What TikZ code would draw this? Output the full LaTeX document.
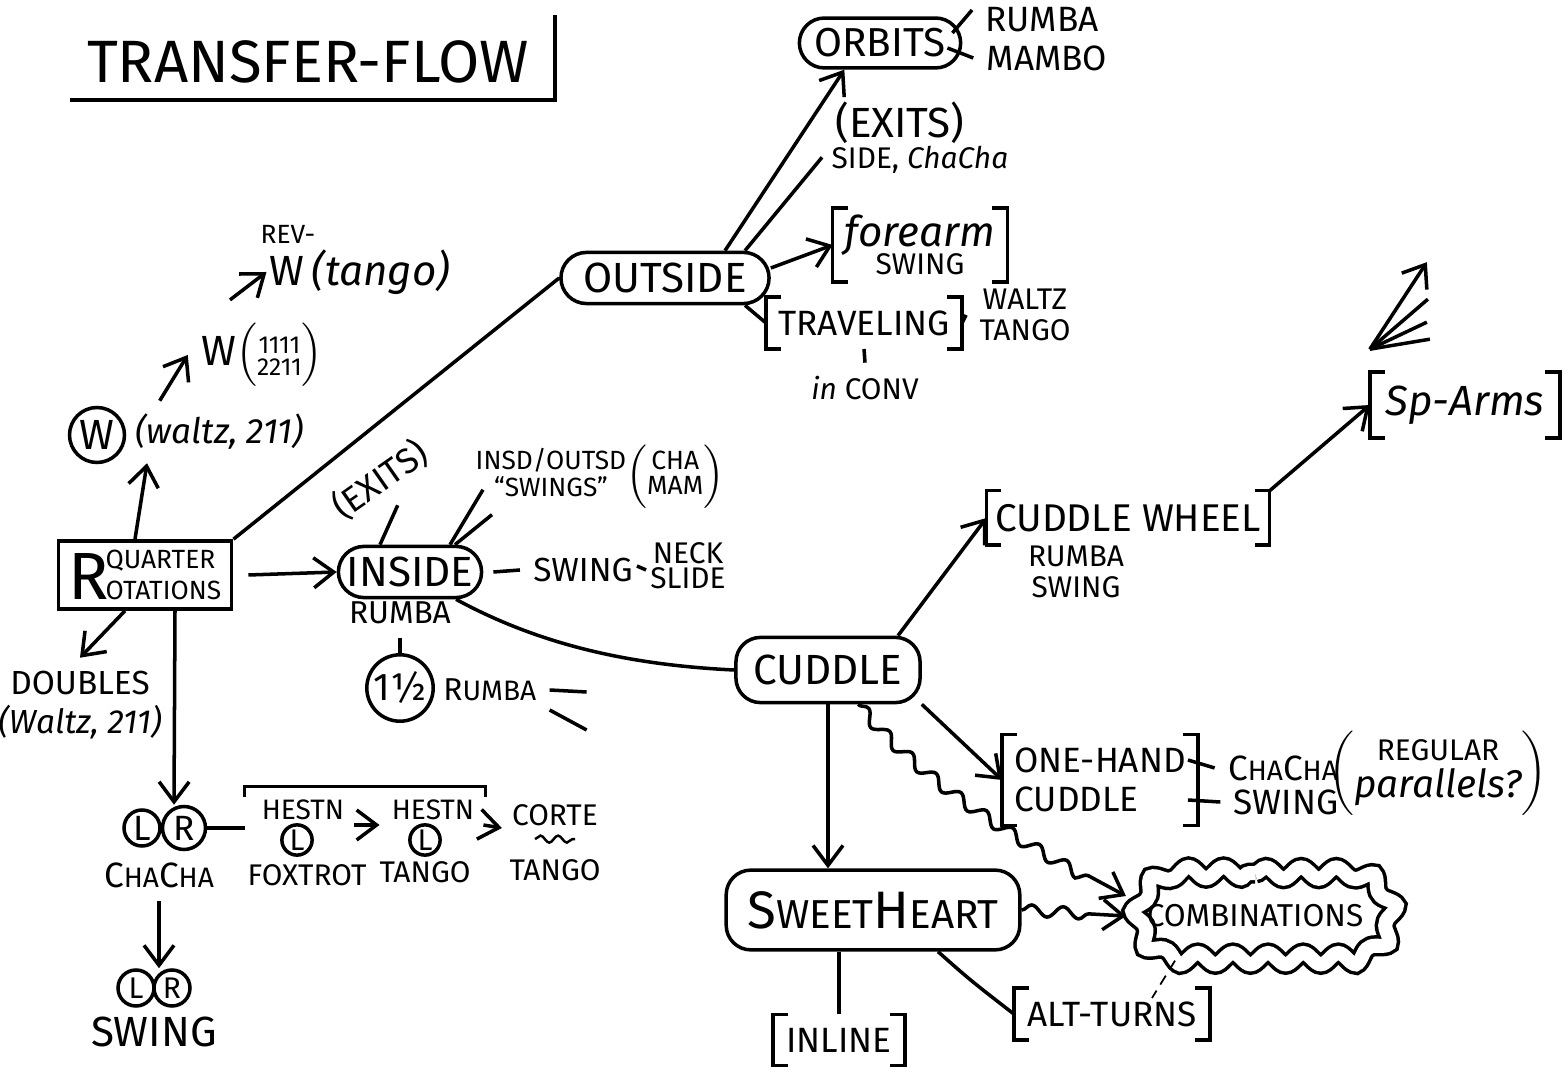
\documentclass[tikz,border=0pt]{standalone}
\usepackage{fontspec}
\setmainfont{Fira Sans}
\usetikzlibrary{arrows.meta,shapes.misc,decorations.pathmorphing}
\tikzset{
  arr/.style={-{Straight Barb[length=2mm,width=3mm]}},
  wavy/.style={decorate,decoration={snake,amplitude=1.6pt,segment length=9pt,post length=3mm}},
  ovalbox/.style={draw,rounded rectangle,inner xsep=1pt,inner ysep=3pt},
  softbox/.style={draw,rounded corners=7pt,inner xsep=5pt,inner ysep=5pt},
  circ/.style={draw,circle,inner sep=0.5pt},
  hugetext/.style={font=\fontsize{17}{18}\selectfont},
  bigtext/.style={font=\fontsize{12}{13}\selectfont,align=center},
  midtext/.style={font=\fontsize{10}{11}\selectfont,align=center},
  smalltext/.style={font=\fontsize{8.5}{9}\selectfont,align=center},
}
\newcommand{\brackets}[1]{%
  \draw ([xshift=1.5mm]#1.north west) -| (#1.south west) -- ++(1.5mm,0);
  \draw ([xshift=-1.5mm]#1.north east) -| (#1.south east) -- ++(-1.5mm,0);}
\newcommand{\stk}[1]{{\renewcommand{\arraystretch}{0.8}\begin{tabular}{@{}c@{}}#1\end{tabular}}}
\newcommand{\sm}[1]{{\fontsize{8}{9}\selectfont #1}}
\begin{document}
\begin{tikzpicture}[line width=1pt]
  \useasboundingbox (0,0) rectangle (15.65,-10.75);
  \node[hugetext] (title) at (3.08,-0.62) {TRANSFER-FLOW};
  \draw (0.7,-1.0) -| (5.55,-0.15);

  \node[draw,inner xsep=3pt,inner ysep=2.5pt] (quarter) at (1.45,-5.75)
    {{\fontsize{19}{19}\selectfont R}\kern-1pt{\fontsize{7.5}{8.5}\selectfont\shortstack[l]{QUARTER\\OTATIONS}}};
  \node[circ,bigtext,minimum size=0.55cm] (wcirc) at (0.97,-4.35) {W};
  \node[midtext,anchor=west] (waltz) at (1.22,-4.32) {\itshape(waltz, 211)};
  \node[bigtext] (wnums) at (2.62,-3.55) {W$\Bigl(\mbox{\fontsize{7}{7}\selectfont\stk{1111\\2211}}\Bigr)$};
  \node[bigtext] (wtango) at (3.6,-2.72) {W\,\itshape(tango)};
  \node[font=\fontsize{7.5}{8}\selectfont] (rev) at (2.88,-2.34) {REV-};
  \node[font=\fontsize{9.5}{11}\selectfont,align=center] (doubles) at (0.8,-7.05) {DOUBLES\\\itshape(Waltz, 211)};

  \node[circ,midtext,minimum size=0.36cm] (lcha) at (1.42,-8.28) {L};
  \node[circ,midtext,minimum size=0.43cm] (rcha) at (1.84,-8.28) {R};
  \node[midtext] (chacha) at (1.59,-8.75) {C\sm{HA}C\sm{HA}};
  \node[circ,smalltext,minimum size=0.36cm] (lsw) at (1.36,-9.88) {L};
  \node[circ,smalltext,minimum size=0.36cm] (rsw) at (1.72,-9.88) {R};
  \node[font=\fontsize{12}{13}\selectfont] (swing) at (1.54,-10.32) {SWING};
  \node[font=\fontsize{8}{9}\selectfont,inner xsep=1pt] (hestn1) at (3.03,-8.1) {HESTN};
  \node[circ,smalltext,minimum size=0.3cm] (lfox) at (2.97,-8.4) {L};
  \node[smalltext] (foxtrot) at (3.07,-8.75) {FOXTROT};
  \node[font=\fontsize{8}{9}\selectfont,inner xsep=1pt] (hestn2) at (4.33,-8.1) {HESTN};
  \node[circ,smalltext,minimum size=0.3cm] (ltan) at (4.25,-8.4) {L};
  \node[smalltext] (tango1) at (4.25,-8.72) {TANGO};
  \node[font=\fontsize{8.5}{9}\selectfont,inner xsep=1pt] (corte) at (5.55,-8.15) {CORTE};
  \node[smalltext] (tango2) at (5.55,-8.7) {TANGO};

  \node[ovalbox,bigtext] (inside) at (4.1,-5.72) {INSIDE};
  \node[font=\fontsize{9}{10}\selectfont] (insrumba) at (4.0,-6.13) {RUMBA};
  \node[circ,font=\fontsize{11}{12}\selectfont,minimum size=0.6cm] (half) at (4.0,-6.88) {1½};
  \node[font=\fontsize{9}{10}\selectfont,anchor=west] (halfrumba) at (4.3,-6.9) {R\sm{UMBA}};
  \node[midtext,rotate=35] (insexits) at (3.8,-4.8) {(EXITS)};
  \node[font=\fontsize{7.5}{8.5}\selectfont] (inout) at (6.0,-4.75)
    {\stk{INSD/OUTSD\\``SWINGS''}$\Bigl(\mbox{\stk{CHA\\MAM}}\Bigr)$};
  \node[font=\fontsize{9.5}{10}\selectfont] (insswing) at (5.83,-5.7) {SWING};
  \node[smalltext] (neck) at (6.88,-5.66) {NECK\\[-2pt]SLIDE};

  \node[ovalbox,bigtext,minimum width=2cm,inner xsep=5pt] (outside) at (6.65,-2.78) {OUTSIDE};
  \node[ovalbox,font=\fontsize{11.5}{12}\selectfont,inner xsep=3pt] (orbits) at (8.8,-0.43) {ORBITS};
  \node[midtext] (orbrumba) at (10.42,-0.2) {RUMBA};
  \node[midtext] (orbmambo) at (10.47,-0.58) {MAMBO};
  \node[font=\fontsize{12}{13}\selectfont] (outexits) at (9.0,-1.23) {(EXITS)};
  \node[smalltext] (sidecha) at (9.2,-1.6) {SIDE, \itshape ChaCha};
  \node[bigtext,inner ysep=1.5pt,inner xsep=3pt] (forearm) at (9.2,-2.45) {\itshape forearm\\[-5pt]{\fontsize{8.5}{9}\selectfont SWING}};
  \node[midtext,inner xsep=3pt] (traveling) at (8.64,-3.23) {TRAVELING};
  \node[smalltext] (waltztango) at (10.25,-3.15) {WALTZ\\TANGO};
  \node[smalltext] (inconv) at (8.65,-3.88) {\itshape in \upshape CONV};

  \node[softbox,bigtext] (cuddle) at (8.28,-6.7) {CUDDLE};
  \node[font=\fontsize{11}{12}\selectfont,inner xsep=2pt] (wheel) at (11.28,-5.18) {CUDDLE WHEEL};
  \node[smalltext] (wheelrs) at (10.76,-5.72) {RUMBA\\SWING};
  \node[bigtext,inner xsep=4pt] (sparms) at (14.65,-4.05) {\itshape Sp-Arms};
  \node[midtext,align=left,inner xsep=3pt] (onehand) at (11.0,-7.8) {ONE-HAND\\CUDDLE};
  \node[midtext] (ohcha) at (12.83,-7.68) {C\sm{HA}C\sm{HA}};
  \node[midtext] (ohswing) at (12.86,-8.02) {SWING};
  \node[smalltext] (regular) at (14.38,-7.72)
    {$\biggl(\mbox{\stk{REGULAR\\{\fontsize{11}{11}\selectfont\itshape parallels?}}}\biggr)$};
  \node[softbox,inner xsep=6pt,inner ysep=6pt] (sweet) at (8.73,-9.1)
    {{\fontsize{15}{16}\selectfont S}{\fontsize{11.5}{12}\selectfont WEET}{\fontsize{15}{16}\selectfont H}{\fontsize{11.5}{12}\selectfont EART}};
  \node[draw,double,double distance=4pt,rounded rectangle,decorate,
    decoration={snake,amplitude=1.6pt,segment length=10pt},
    font=\fontsize{9}{10}\selectfont,inner xsep=5pt,inner ysep=9pt] (comb) at (12.55,-9.16) {COMBINATIONS};
  \node[midtext] (inline) at (8.39,-10.4) {INLINE};
  \node[midtext] (altturns) at (11.12,-10.14) {ALT-TURNS};
  \foreach \n in {forearm,traveling,wheel,sparms,onehand,inline,altturns} {\brackets{\n}}

  \begin{scope}
    \draw[arr] ([xshift=-1mm]quarter.north) -- ([xshift=2.5mm]waltz.south west);
    \draw[arr] ([xshift=-6mm]waltz.north) -- (wnums.west);
    \draw[arr] ([shift={(-3.2mm,1mm)}]wnums.north) -- ([xshift=1mm]wtango.west);
    \draw[arr] ([xshift=-2mm]quarter.south) -- (doubles.north);
    \draw[arr] ([xshift=3mm]quarter.south) -- ([xshift=-1mm]rcha.north);
    \draw[arr] (chacha.south) -- (chacha.south |- lsw.north);
    \draw (rcha.east) -- ([xshift=-1.2mm]hestn1.west |- rcha.east);
    \draw ([shift={(-1.2mm,-1mm)}]hestn1.north west) |- ([xshift=0.6mm]hestn2.north east) -- ++(0,-1mm);
    \draw[arr] ([shift={(0.5mm,-1.5mm)}]hestn1.east) -- ([shift={(-0.7mm,-1.5mm)}]hestn2.west);
    \draw[arr] ([shift={(0.4mm,-1.5mm)}]hestn2.east) -- ([shift={(-0.5mm,-1.3mm)}]corte.west);
    \draw[decorate,decoration={snake,amplitude=1pt,segment length=5pt},line width=0.7pt]
      ([xshift=-2mm]corte.south) -- ([xshift=2mm]corte.south);
    \draw[arr] ([xshift=1.5mm]quarter.east) -- (inside.west);
    \draw (quarter.north east) -- (outside.west);
    \draw (insrumba.south) -- (half.north);
    \draw (halfrumba.east) -- ++(0.37,-0.02);
    \draw ([yshift=-2mm]halfrumba.east) -- ++(0.37,-0.2);
    \draw ([xshift=-3mm]inside.north) -- (insexits.south);
    \draw ([xshift=4mm]inside.north) -- ++(0.33,0.55);
    \draw ([xshift=4.5mm]inside.north) -- ++(0.37,0.3);
    \draw ([xshift=1mm]inside.east) -- (insswing.west);
    \draw (insswing.east) -- (neck.west);
    \draw (inside.south east) .. controls (5.4,-6.45) and (6.3,-6.65) .. (cuddle.west);

    \draw[arr] ([xshift=6mm]outside.north) -- ([xshift=2mm]orbits.south west);
    \draw ([xshift=8mm]outside.north) -- (outexits.south west);
    \draw ([shift={(-1mm,1mm)}]orbits.east) -- ([yshift=1mm]orbrumba.west);
    \draw ([shift={(-1.5mm,-0.5mm)}]orbits.east) -- (orbmambo.west);
    \draw[arr] ([yshift=1mm]outside.east) -- (forearm.west);
    \draw ([xshift=8mm]outside.south) -- (traveling.west);
    \draw (traveling.east) -- (waltztango.west);
    \draw (traveling.south) -- (inconv.north);

    \draw[arr] ([xshift=7mm]cuddle.north) -- (wheel.west);
    \draw[arr] (wheel.north east) -- (sparms.west);
    \coordinate (fan) at ([shift={(0mm,2.3mm)}]sparms.north west);
    \draw[arr] (fan) -- ++(0.57,0.87);
    \foreach \dx/\dy in {0.58/0.5, 0.57/0.27, 0.6/0.1} \draw (fan) -- ++(\dx,\dy);
    \draw[arr] (cuddle.south east) -- (onehand.west);
    \draw ([shift={(-1mm,2mm)}]onehand.east) -- (ohcha.west);
    \draw ([shift={(-1mm,-2mm)}]onehand.east) -- (ohswing.west);
    \draw[arr] (cuddle.south) -- (cuddle.south |- sweet.north);
    \draw[arr,wavy] ([xshift=3mm]cuddle.south) .. controls (9.3,-7.9) and (10.4,-8.5) .. ([yshift=2mm]comb.west);
    \draw[arr,wavy] (sweet.east) -- (comb.west);
    \draw (inline.north |- sweet.south) -- (inline.north);
    \draw ([xshift=6.5mm]sweet.south) .. controls (9.7,-9.8) .. (altturns.west);
    \draw[densely dashed,line width=0.5pt] ([xshift=-8mm]comb.south) -- ([shift={(4mm,-1mm)}]altturns.north);
  \end{scope}
\end{tikzpicture}
\end{document}
